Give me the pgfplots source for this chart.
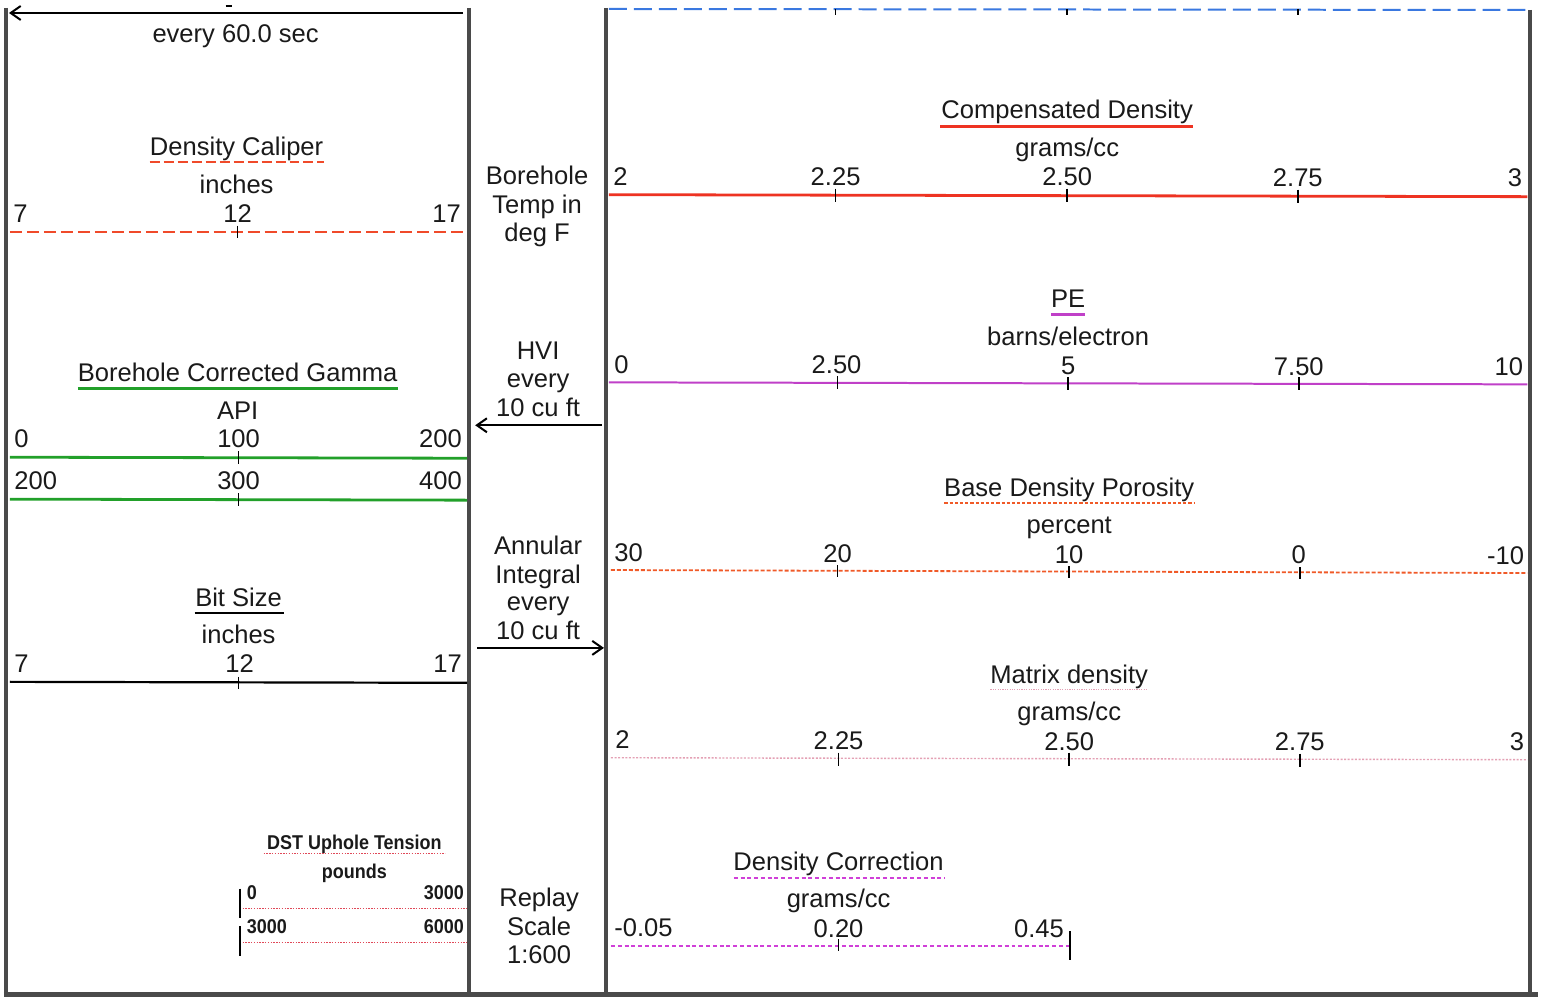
\documentclass[border=0pt]{standalone}
\usepackage{pgfplots}
\pgfplotsset{compat=1.18}
\usepackage{fontspec}
\setmainfont{Liberation Sans}
\newfontfamily\dstfont[FakeStretch=0.9]{Liberation Sans}
\usetikzlibrary{arrows.meta}

\definecolor{framegray}{HTML}{4A4A4A}
\definecolor{cdred}{HTML}{EE3322}
\definecolor{calred}{HTML}{F04A2A}
\definecolor{gamgreen}{HTML}{22A02A}
\definecolor{pemag}{HTML}{C040C8}
\definecolor{porange}{HTML}{F05A28}
\definecolor{matpink}{HTML}{E4A0B4}
\definecolor{dcmag}{HTML}{D040D8}
\definecolor{tblue}{HTML}{3A78E0}
\definecolor{dstred}{HTML}{E04858}
\definecolor{txt}{HTML}{1A1A1A}

\tikzset{
  tk/.style={black, line width=0.9pt, mark=none},
  fr/.style={framegray, line width=2pt, mark=none},
  lab/.style={font=\fontsize{12.8}{15}\selectfont, text=txt, inner sep=0pt, yshift=-0.5pt},
  dst/.style={font=\dstfont\bfseries\fontsize{10}{12}\selectfont, text=txt, inner sep=0pt, yshift=-0.5pt},
}

% header geometry is given in pixel units: 1 unit = 0.5pt
\newcommand{\seg}[5]{\addplot[#1] coordinates {(#2,#3) (#4,#5)};}
\newcommand{\vtick}[3]{\addplot[tk] coordinates {(#1,#2) (#1,#3)};}

\begin{document}
\begin{tikzpicture}
\begin{axis}[
  width=770.5pt, height=499.5pt, scale only axis,
  xmin=0, xmax=1541, ymin=0, ymax=999, y dir=reverse,
  hide axis, clip=false,
]
% page background
\addplot[fill=white, draw=none, mark=none] coordinates {(0,0) (1541,0) (1541,999) (0,999)} \closedcycle;

% track borders
\seg{fr}{6}{8}{6}{997}
\seg{fr}{470}{8}{470}{997}
\seg{fr}{607}{8}{607}{997}
\seg{fr}{1533}{10}{1533}{997}
\seg{framegray, line width=2.6pt, mark=none}{4}{996}{1541}{996}

% ---------------- left track ----------------
\seg{black, line width=1pt, mark=none, -{Straight Barb[length=5pt,width=7pt]}}{464}{13}{9}{13}
\seg{black, line width=0.8pt, mark=none}{226}{6}{232}{6}
\node[lab, anchor=base] at (axis cs:236,42) {every 60.0 sec};

% Density Caliper
\node[lab, anchor=base] at (axis cs:237,155) {Density Caliper};
\seg{calred, line width=1pt, dash pattern=on 5pt off 2pt, mark=none}{150}{162}{325}{162}
\node[lab, anchor=base] at (axis cs:237,193) {inches};
\node[lab, anchor=base west] at (axis cs:13,222) {7};
\node[lab, anchor=base] at (axis cs:238,222) {12};
\node[lab, anchor=base east] at (axis cs:462,222) {17};
\seg{calred, line width=1.1pt, dash pattern=on 6pt off 2.5pt, mark=none}{10}{232}{468}{232}
\vtick{238}{226}{238}

% Borehole Corrected Gamma
\node[lab, anchor=base] at (axis cs:238,381) {Borehole Corrected Gamma};
\seg{gamgreen, line width=1.4pt, mark=none}{78}{389}{399}{389}
\node[lab, anchor=base] at (axis cs:238,419) {API};
\node[lab, anchor=base west] at (axis cs:14,447) {0};
\node[lab, anchor=base] at (axis cs:239,447) {100};
\node[lab, anchor=base east] at (axis cs:463,447) {200};
\seg{gamgreen, line width=1.4pt, mark=none}{10}{458}{468}{459}
\vtick{239}{452}{465}
\node[lab, anchor=base west] at (axis cs:14,489) {200};
\node[lab, anchor=base] at (axis cs:239,489) {300};
\node[lab, anchor=base east] at (axis cs:463,489) {400};
\seg{gamgreen, line width=1.4pt, mark=none}{10}{500}{468}{501}
\vtick{239}{494}{507}

% Bit Size
\node[lab, anchor=base] at (axis cs:239,607) {Bit Size};
\seg{black, line width=1.1pt, mark=none}{195}{614}{284}{614}
\node[lab, anchor=base] at (axis cs:239,644) {inches};
\node[lab, anchor=base west] at (axis cs:14,673) {7};
\node[lab, anchor=base] at (axis cs:240,673) {12};
\node[lab, anchor=base east] at (axis cs:463,673) {17};
\seg{black, line width=1.1pt, mark=none}{10}{683}{468}{684}
\vtick{239}{678}{690}

% DST Uphole Tension
\node[dst, anchor=base] at (axis cs:355,850) {DST Uphole Tension};
\seg{dstred, line width=0.7pt, dash pattern=on 0.7pt off 0.7pt, mark=none}{264}{855}{446}{855}
\node[dst, anchor=base] at (axis cs:355,879) {pounds};
\node[dst, anchor=base west] at (axis cs:247,900) {0};
\node[dst, anchor=base east] at (axis cs:465,900) {3000};
\seg{dstred, line width=0.7pt, dash pattern=on 0.7pt off 0.7pt, mark=none}{243}{910}{468}{910}
\node[dst, anchor=base west] at (axis cs:247,934) {3000};
\node[dst, anchor=base east] at (axis cs:465,934) {6000};
\seg{dstred, line width=0.7pt, dash pattern=on 0.7pt off 0.7pt, mark=none}{243}{944}{468}{944}
\seg{black, line width=1pt, mark=none}{240}{890}{240}{920}
\seg{black, line width=1pt, mark=none}{240}{928}{240}{958}

% ---------------- middle track ----------------
\node[lab, anchor=base] at (axis cs:538,184) {Borehole};
\node[lab, anchor=base] at (axis cs:538,213) {Temp in};
\node[lab, anchor=base] at (axis cs:538,241) {deg F};
\node[lab, anchor=base] at (axis cs:539,359) {HVI};
\node[lab, anchor=base] at (axis cs:539,387) {every};
\node[lab, anchor=base] at (axis cs:539,416) {10 cu ft};
\seg{black, line width=1pt, mark=none, -{Straight Barb[length=5pt,width=7pt]}}{603}{426}{476}{426}
\node[lab, anchor=base] at (axis cs:539,554) {Annular};
\node[lab, anchor=base] at (axis cs:539,583) {Integral};
\node[lab, anchor=base] at (axis cs:539,611) {every};
\node[lab, anchor=base] at (axis cs:539,640) {10 cu ft};
\seg{black, line width=1pt, mark=none, -{Straight Barb[length=5pt,width=7pt]}}{478}{649}{605}{649}
\node[lab, anchor=base] at (axis cs:540,907) {Replay};
\node[lab, anchor=base] at (axis cs:540,936) {Scale};
\node[lab, anchor=base] at (axis cs:540,964) {1:600};

% ---------------- right track ----------------
\seg{tblue, line width=1pt, dash pattern=on 9pt off 3.5pt, mark=none}{610}{9}{1532}{10}
\vtick{837}{9}{15}
\vtick{1069}{9}{15}
\vtick{1300}{9}{15}

% Compensated Density
\node[lab, anchor=base] at (axis cs:1069,118) {Compensated Density};
\seg{cdred, line width=1.6pt, mark=none}{942}{127}{1195}{127}
\node[lab, anchor=base] at (axis cs:1069,156) {grams/cc};
\node[lab, anchor=base west] at (axis cs:614,185) {2};
\node[lab, anchor=base] at (axis cs:837,185) {2.25};
\node[lab, anchor=base] at (axis cs:1069,185) {2.50};
\node[lab, anchor=base] at (axis cs:1300,186) {2.75};
\node[lab, anchor=base east] at (axis cs:1525,186) {3};
\seg{cdred, line width=1.4pt, mark=none}{610}{195}{1530}{197}
\vtick{837}{189}{202}
\vtick{1069}{189}{202}
\vtick{1300}{190}{203}

% PE
\node[lab, anchor=base] at (axis cs:1070,307) {PE};
\seg{pemag, line width=1.1pt, mark=none}{1053}{315}{1087}{315}
\node[lab, anchor=base] at (axis cs:1070,345) {barns/electron};
\node[lab, anchor=base west] at (axis cs:615,373) {0};
\node[lab, anchor=base] at (axis cs:838,373) {2.50};
\node[lab, anchor=base] at (axis cs:1070,374) {5};
\node[lab, anchor=base] at (axis cs:1301,375) {7.50};
\node[lab, anchor=base east] at (axis cs:1526,375) {10};
\seg{pemag, line width=1pt, mark=none}{610}{383}{1530}{385}
\vtick{839}{377}{390}
\vtick{1070}{378}{391}
\vtick{1301}{378}{391}

% Base Density Porosity
\node[lab, anchor=base] at (axis cs:1071,496) {Base Density Porosity};
\seg{porange, line width=0.9pt, dash pattern=on 1.6pt off 1pt, mark=none}{946}{504}{1196}{504}
\node[lab, anchor=base] at (axis cs:1071,533) {percent};
\node[lab, anchor=base west] at (axis cs:615,561) {30};
\node[lab, anchor=base] at (axis cs:839,562) {20};
\node[lab, anchor=base] at (axis cs:1071,563) {10};
\node[lab, anchor=base] at (axis cs:1301,563) {0};
\node[lab, anchor=base east] at (axis cs:1527,564) {-10};
\seg{porange, line width=0.9pt, dash pattern=on 2pt off 1pt, mark=none}{612}{571}{1530}{574}
\vtick{839}{566}{578}
\vtick{1071}{567}{579}
\vtick{1302}{568}{580}

% Matrix density
\node[lab, anchor=base] at (axis cs:1071,684) {Matrix density};
\seg{matpink, line width=0.6pt, dash pattern=on 0.6pt off 0.6pt, mark=none}{992}{691}{1150}{691}
\node[lab, anchor=base] at (axis cs:1071,721) {grams/cc};
\node[lab, anchor=base west] at (axis cs:616,749) {2};
\node[lab, anchor=base] at (axis cs:840,750) {2.25};
\node[lab, anchor=base] at (axis cs:1071,751) {2.50};
\node[lab, anchor=base] at (axis cs:1302,751) {2.75};
\node[lab, anchor=base east] at (axis cs:1527,751) {3};
\seg{matpink, line width=0.7pt, dash pattern=on 1pt off 0.8pt, mark=none}{612}{759}{1530}{761}
\vtick{840}{754}{767}
\vtick{1071}{754}{767}
\vtick{1302}{755}{768}

% Density Correction
\node[lab, anchor=base] at (axis cs:840,871) {Density Correction};
\addplot[draw=dcmag, line width=1pt, dash pattern=on 2pt off 1.4pt, mark=none] coordinates {(735,879.3) (946,879.3)};
\node[lab, anchor=base] at (axis cs:840,908) {grams/cc};
\node[lab, anchor=base west] at (axis cs:615,937) {-0.05};
\node[lab, anchor=base] at (axis cs:840,938) {0.20};
\node[lab, anchor=base east] at (axis cs:1066,938) {0.45};
\addplot[draw=dcmag, line width=1pt, dash pattern=on 2pt off 1.4pt, mark=none] coordinates {(612,947.3) (1071,947.3)};
\vtick{840}{941}{953}
\vtick{1072}{933}{962}
\end{axis}
\end{tikzpicture}
\end{document}
